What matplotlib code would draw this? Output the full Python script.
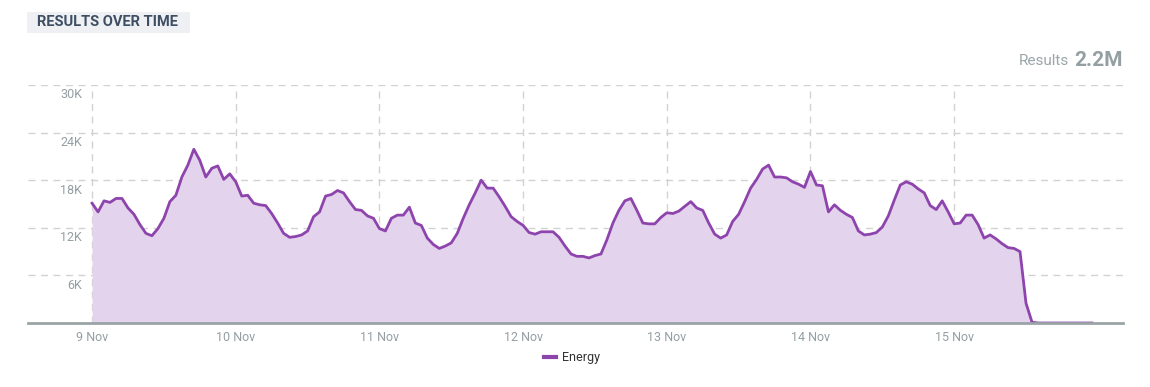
import matplotlib
matplotlib.use("Agg")
import matplotlib.pyplot as plt
import matplotlib.transforms as mtransforms
import pandas as pd
from matplotlib.lines import Line2D
from matplotlib.patches import Rectangle

plt.rcParams["font.family"] = ["Roboto", "DejaVu Sans"]

# hourly volume, 9 Nov 00:00 -> 15 Nov 23:00
START = "2023-11-09 00:00"
VALUES = [
    15100, 14000, 15400, 15200, 15700, 15700, 14500, 13700, 12400, 11300, 11000, 11900,
    13200, 15300, 16100, 18400, 19900, 21900, 20500, 18400, 19500, 19800, 18100, 18800,
    17800, 16000, 16100, 15100, 14900, 14800, 13800, 12600, 11300, 10800, 10900, 11100,
    11600, 13400, 14000, 16000, 16200, 16700, 16400, 15300, 14300, 14200, 13500, 13200,
    11900, 11600, 13200, 13600, 13600, 14600, 12600, 12300, 10700, 9900, 9400, 9700,
    10100, 11300, 13200, 14900, 16400, 18000, 17000, 17000, 15900, 14700, 13400, 12800,
    12300, 11400, 11200, 11500, 11500, 11500, 10800, 9700, 8700, 8400, 8400, 8200,
    8500, 8700, 10500, 12600, 14200, 15400, 15700, 14200, 12600, 12500, 12500, 13300,
    13900, 13800, 14100, 14700, 15300, 14500, 14200, 12600, 11200, 10700, 11100, 12800,
    13700, 15300, 17000, 18100, 19400, 19900, 18400, 18400, 18300, 17800, 17500, 17100,
    19100, 17400, 17300, 14000, 14900, 14200, 13700, 13300, 11600, 11100, 11200, 11400,
    12100, 13500, 15500, 17400, 17800, 17500, 16900, 16400, 14800, 14300, 15400, 14000,
    12500, 12600, 13600, 13600, 12400, 10700, 11100, 10600, 10000, 9500, 9400, 9000,
    2500, 100, 0, 0, 0, 0, 0, 0, 0, 0, 0, 0,
]
DAY_LABELS = ["9 Nov", "10 Nov", "11 Nov", "12 Nov", "13 Nov", "14 Nov", "15 Nov"]
Y_TICKS = [6000, 12000, 18000, 24000, 30000]
Y_LABELS = ["6K", "12K", "18K", "24K", "30K"]
SERIES = "Energy"
TOTAL = "2.2M"

LINE = "#8e44ad"
FILL = "#e4d3ec"
GRID = "#d2d2d2"
MUTED = "#939fa2"

times = pd.date_range(START, periods=len(VALUES), freq="h")
days = pd.date_range(START, periods=len(DAY_LABELS), freq="D")

W, H = 1150, 387
fig = plt.figure(figsize=(W / 100, H / 100), dpi=100)
ax = fig.add_axes([28 / W, 64 / H, 1095 / W, 238 / H])

ax.fill_between(times, VALUES, 0, color=FILL, lw=0)
ax.plot(times, VALUES, color=LINE, lw=2)

t0 = pd.Timestamp(START)
ax.set_xlim(t0 - pd.Timedelta(hours=10.7), t0 + pd.Timedelta(hours=172.2))
ax.set_ylim(0, 30000)

ax.set_xticks(days)
ax.set_xticklabels(DAY_LABELS)
ax.set_yticks(Y_TICKS)
ax.set_yticklabels(Y_LABELS)
ax.tick_params(length=0, colors=MUTED, labelsize=9)
ax.tick_params(axis="x", pad=6)
ax.tick_params(axis="y", pad=-39)
shift = mtransforms.ScaledTranslation(0, -6 / 72, fig.dpi_scale_trans)
for lab in ax.get_yticklabels():
    lab.set_transform(lab.get_transform() + shift)

ax.grid(True, color=GRID, ls=(0, (5, 4)), lw=1)
ax.set_axisbelow(True)
for s in ["top", "right", "left"]:
    ax.spines[s].set_visible(False)
ax.spines["bottom"].set_color("#9aa3a6")
ax.spines["bottom"].set_linewidth(2)

# header badge
fig.add_artist(Rectangle((27 / W, 1 - 33 / H), 163 / W, 21 / H, transform=fig.transFigure,
                         fc="#eef0f3", ec="none"))
fig.text(37 / W, 1 - 22.5 / H, "RESULTS OVER TIME", fontsize=10.5, fontweight="bold",
         color="#3e4e63", va="center", ha="left")

t = fig.text(1123 / W, 1 - 60 / H, TOTAL, fontsize=15, fontweight="bold",
             color="#939fa2", ha="right", va="center")
fig.canvas.draw()
bb = t.get_window_extent()
fig.text(bb.x0 - 5, bb.y0 + bb.height / 2 - 1, "Results", fontsize=11, color="#9aa6a8",
         ha="right", va="center", transform=None)

handle = Line2D([], [], color=LINE, lw=3)
fig.legend([handle], [SERIES], loc="center", bbox_to_anchor=(572 / W, 1 - 358 / H),
           frameon=False, fontsize=9, handlelength=1.0, handletextpad=0.5,
           labelcolor="#333333")

fig.savefig("out.png", dpi=100)
